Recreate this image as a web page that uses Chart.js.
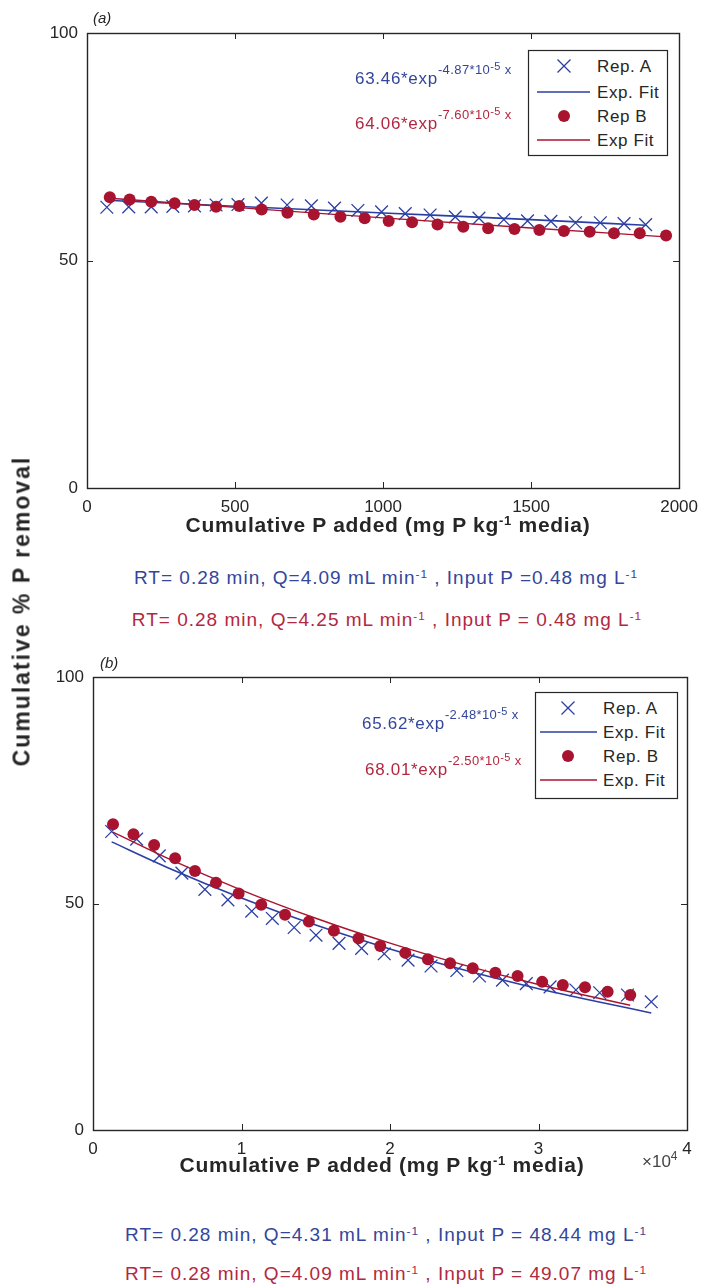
<!DOCTYPE html>
<html>
<head>
<meta charset="utf-8">
<script src="https://cdn.jsdelivr.net/npm/chart.js@4"></script>
<style>
  body { margin: 0; background: #fff; }
  #page { position: relative; width: 707px; height: 1288px; overflow: hidden; font-family: "Liberation Sans", Arial, sans-serif; color: #262626; }
  canvas { position: absolute; left: 0; }
  .t { position: absolute; white-space: nowrap; transform: translate(-50%, -50%); line-height: 1; }
  .lft { position: absolute; white-space: nowrap; line-height: 1; }
  .xt { font-weight: bold; font-size: 21px; letter-spacing: 0.7px; }
  .cap { font-size: 19px; letter-spacing: 1.0px; }
  .cap sup, .xt sup { font-size: 0.62em; vertical-align: 0; position: relative; top: -0.55em; }
  .blue { color: #33469b; }
  .red { color: #b2283f; }
  .eq { font-size: 17px; letter-spacing: 0.7px; }
  .s1 { font-size: 13px; position: relative; top: -10px; letter-spacing: 0.4px; }
  .s2 { font-size: 11px; position: relative; top: -4px; }
  .lab { font-style: italic; font-size: 15px; }
  svg { position: absolute; left: 0; top: 0; }
</style>
</head>
<body>
<div id="page">
  <canvas id="chartA" width="707" height="530" style="top:0px"></canvas>
  <canvas id="chartB" width="707" height="530" style="top:640px"></canvas>

  <div class="lft lab" style="left:93px; top:10px;">(a)</div>
  <div class="lft lab" style="left:100px; top:655px;">(b)</div>

  <div class="t" style="left:22px; top:611px; font-weight:bold; font-size:23px; letter-spacing:2px; transform: translate(-50%, -50%) rotate(-90deg);">Cumulative % P removal</div>

  <div class="t xt" style="left:388px; top:524px;">Cumulative P added (mg P kg<sup>-1</sup> media)</div>
  <div class="t cap blue" style="left:386px; top:577px;">RT= 0.28 min, Q=4.09 mL min<sup>-1</sup> , Input P =0.48 mg L<sup>-1</sup></div>
  <div class="t cap red" style="left:387px; top:619px;">RT= 0.28 min, Q=4.25 mL min<sup>-1</sup> , Input P = 0.48 mg L<sup>-1</sup></div>

  <div class="t xt" style="left:382px; top:1164px;">Cumulative P added (mg P kg<sup>-1</sup> media)</div>
  <div class="lft" style="left:642px; top:1153px; font-size:17px; color:#444;">&times;10<span style="font-size:12px; position:relative; top:-7px;">4</span></div>
  <div class="t cap blue" style="left:386px; top:1234px;">RT= 0.28 min, Q=4.31 mL min<sup>-1</sup> , Input P = 48.44 mg L<sup>-1</sup></div>
  <div class="t cap red" style="left:386px; top:1273px;">RT= 0.28 min, Q=4.09 mL min<sup>-1</sup> , Input P = 49.07 mg L<sup>-1</sup></div>

  <div class="lft eq blue" style="left:355px; top:70px;">63.46*exp<span class="s1">-4.87*10<span class="s2">-5</span> x</span></div>
  <div class="lft eq red" style="left:355px; top:115px;">64.06*exp<span class="s1">-7.60*10<span class="s2">-5</span> x</span></div>
  <div class="lft eq blue" style="left:362px; top:715px;">65.62*exp<span class="s1">-2.48*10<span class="s2">-5</span> x</span></div>
  <div class="lft eq red" style="left:365px; top:761px;">68.01*exp<span class="s1">-2.50*10<span class="s2">-5</span> x</span></div>

  <svg id="legends" width="707" height="1288"></svg>
</div>

<script>
// panel (a)
const aTicksX = [0, 500, 1000, 1500, 2000];
const aTicksY = [0, 50, 100];
const aRepAx = [67, 141, 217, 290, 363, 436, 510, 589, 676, 758, 836, 915, 995, 1075, 1159, 1244, 1324, 1408, 1488, 1567, 1650, 1734, 1814, 1887];
const aRepAy = [61.7, 61.8, 61.8, 61.9, 62.0, 62.2, 62.3, 62.6, 62.2, 62.0, 61.5, 61.0, 60.7, 60.3, 60.0, 59.6, 59.3, 59.0, 58.7, 58.6, 58.3, 58.3, 58.1, 57.9];
const aRepBx = [77, 144, 217, 296, 363, 436, 514, 590, 677, 766, 856, 938, 1019, 1098, 1184, 1271, 1355, 1444, 1528, 1611, 1698, 1780, 1867, 1956];
const aRepBy = [63.9, 63.4, 62.9, 62.6, 62.2, 61.8, 62.0, 61.2, 60.5, 60.1, 59.6, 59.3, 58.7, 58.4, 57.9, 57.4, 57.1, 56.9, 56.7, 56.5, 56.3, 56.0, 56.0, 55.5];
const aFitAx = [67, 500, 1000, 1500, 1887];
const aFitAy = [63.25, 61.93, 60.45, 58.99, 57.75];
const aFitBx = [77, 500, 1000, 1500, 1956];
const aFitBy = [63.69, 61.67, 59.37, 57.15, 55.2];

// panel (b)
const bTicksX = [0, 10000, 20000, 30000, 40000];
const bTicksY = [0, 50, 100];
const bRepAx = [1256, 2939, 4462, 5985, 7535, 9085, 10688, 12077, 13547, 15017, 16567, 18090, 19613, 21216, 22766, 24502, 26025, 27575, 29178, 30781, 32518, 34121, 35992, 37595];
const bRepAy = [65.9, 64.2, 60.5, 56.7, 53.1, 50.8, 48.3, 46.7, 44.7, 43.0, 41.2, 40.1, 38.9, 37.5, 36.2, 35.2, 34.0, 33.1, 32.3, 31.6, 30.9, 30.3, 29.8, 28.3];
const bRepBx = [1347, 2725, 4115, 5531, 6867, 8283, 9806, 11329, 12933, 14536, 16219, 17876, 19345, 21028, 22552, 24048, 25571, 27094, 28591, 30247, 31637, 33133, 34656, 36179];
const bRepBy = [67.5, 65.3, 62.9, 60.0, 57.2, 54.6, 52.2, 49.7, 47.5, 46.0, 44.0, 42.3, 40.6, 39.1, 37.7, 36.8, 35.7, 34.7, 34.0, 32.7, 32.0, 31.5, 30.5, 29.8];
const bFitAx = [1256, 5000, 10000, 15000, 20000, 25000, 30000, 37595];
const bFitAy = [63.6, 57.97, 51.21, 45.24, 39.96, 35.3, 31.18, 25.83];
const bFitBx = [1347, 5000, 10000, 15000, 20000, 25000, 30000, 36179];
const bFitBy = [65.76, 60.02, 52.97, 46.74, 41.25, 36.4, 32.13, 27.53];

const BLUE = '#2b3fa3';
const RED = '#a8142f';
const AXIS = '#262626';
const FONT = '"Liberation Sans", Arial, sans-serif';

const pts = (xs, ys) => xs.map((x, i) => ({ x: x, y: ys[i] }));

// box round the plot, ticks pointing inward
const boxTicks = {
  id: 'boxTicks',
  afterDraw(chart) {
    const { ctx, chartArea: a } = chart;
    const x = chart.scales.x, y = chart.scales.y;
    ctx.save();
    ctx.strokeStyle = AXIS;
    ctx.lineWidth = 1;
    ctx.beginPath();
    x.ticks.forEach(t => {
      const px = Math.round(x.getPixelForValue(t.value)) + 0.5;
      ctx.moveTo(px, a.bottom); ctx.lineTo(px, a.bottom - 6);
      ctx.moveTo(px, a.top); ctx.lineTo(px, a.top + 6);
    });
    y.ticks.forEach(t => {
      const py = Math.round(y.getPixelForValue(t.value)) + 0.5;
      ctx.moveTo(a.left, py); ctx.lineTo(a.left + 6, py);
      ctx.moveTo(a.right, py); ctx.lineTo(a.right - 6, py);
    });
    ctx.stroke();
    ctx.lineWidth = 1.4;
    ctx.strokeRect(Math.round(a.left) + 0.5, Math.round(a.top) + 0.5, Math.round(a.right - a.left), Math.round(a.bottom - a.top));
    ctx.restore();
  }
};

function makePanel(id, p) {
  return new Chart(document.getElementById(id), {
    type: 'scatter',
    data: {
      datasets: [
        { label: 'Rep. A', data: pts(p.ax, p.ay), pointStyle: 'crossRot', pointRadius: 9, borderColor: BLUE, borderWidth: 1.3, showLine: false, order: 4 },
        { label: 'Exp. Fit', data: pts(p.fax, p.fay), showLine: true, pointRadius: 0, borderColor: BLUE, borderWidth: 1.6, cubicInterpolationMode: 'monotone', order: 3 },
        { label: p.bLabel, data: pts(p.bx, p.by), pointStyle: 'circle', pointRadius: 6, backgroundColor: RED, borderColor: RED, borderWidth: 0, showLine: false, order: 2 },
        { label: p.fbLabel, data: pts(p.fbx, p.fby), showLine: true, pointRadius: 0, borderColor: RED, borderWidth: 1.4, cubicInterpolationMode: 'monotone', order: 1 }
      ]
    },
    options: {
      responsive: false,
      animation: false,
      devicePixelRatio: 1,
      layout: { padding: { left: 0, top: p.top, right: p.right, bottom: 0 } },
      plugins: { legend: { display: false }, tooltip: { enabled: false } },
      scales: {
        x: {
          type: 'linear', min: p.xTicks[0], max: p.xTicks[p.xTicks.length - 1],
          grid: { display: false, drawTicks: false }, border: { display: false },
          afterBuildTicks: s => { s.ticks = p.xTicks.map(v => ({ value: v })); },
          afterFit: s => { s.height = p.xh; },
          ticks: { color: AXIS, padding: 9, font: { family: FONT, size: 17 }, maxRotation: 0, callback: p.xcb }
        },
        y: {
          type: 'linear', min: 0, max: 100,
          grid: { display: false, drawTicks: false }, border: { display: false },
          afterBuildTicks: s => { s.ticks = p.yTicks.map(v => ({ value: v })); },
          afterFit: s => { s.width = p.yw; },
          ticks: { color: AXIS, padding: 9, font: { family: FONT, size: 17 } }
        }
      }
    },
    plugins: [boxTicks]
  });
}

makePanel('chartA', {
  ax: aRepAx, ay: aRepAy, fax: aFitAx, fay: aFitAy, bx: aRepBx, by: aRepBy, fbx: aFitBx, fby: aFitBy,
  bLabel: 'Rep B', fbLabel: 'Exp Fit', xTicks: aTicksX, yTicks: aTicksY,
  top: 33, right: 25, xh: 42, yw: 87, xcb: v => v
});
makePanel('chartB', {
  ax: bRepAx, ay: bRepAy, fax: bFitAx, fay: bFitAy, bx: bRepBx, by: bRepBy, fbx: bFitBx, fby: bFitBy,
  bLabel: 'Rep. B', fbLabel: 'Exp. Fit', xTicks: bTicksX, yTicks: bTicksY,
  top: 37, right: 20, xh: 40, yw: 93, xcb: v => v / 10000
});

// legends (boxes drawn as svg, text kept as text)
const legendA = { left: 528, top: 50, w: 139, h: 105, rows: [66, 92, 116, 140], mx: 564, l0: 537, l1: 590, tx: 597, labels: ['Rep. A', 'Exp. Fit', 'Rep B', 'Exp Fit'] };
const legendB = { left: 535, top: 692, w: 142, h: 106, rows: [708, 732, 756, 780], mx: 568, l0: 540, l1: 597, tx: 603, labels: ['Rep. A', 'Exp. Fit', 'Rep. B', 'Exp. Fit'] };

const svg = document.getElementById('legends');
let out = '';
[legendA, legendB].forEach(L => {
  out += `<rect x="${L.left + 0.5}" y="${L.top + 0.5}" width="${L.w}" height="${L.h}" fill="#fff" stroke="${AXIS}" stroke-width="1.2"/>`;
  const r = L.rows, s = 6.5;
  out += `<path d="M${L.mx - s} ${r[0] - s}L${L.mx + s} ${r[0] + s}M${L.mx - s} ${r[0] + s}L${L.mx + s} ${r[0] - s}" stroke="${BLUE}" stroke-width="1.3"/>`;
  out += `<line x1="${L.l0}" y1="${r[1]}" x2="${L.l1}" y2="${r[1]}" stroke="${BLUE}" stroke-width="1.6"/>`;
  out += `<circle cx="${L.mx}" cy="${r[2]}" r="6" fill="${RED}"/>`;
  out += `<line x1="${L.l0}" y1="${r[3]}" x2="${L.l1}" y2="${r[3]}" stroke="${RED}" stroke-width="1.4"/>`;
  L.labels.forEach((t, i) => {
    out += `<text x="${L.tx}" y="${r[i]}" dominant-baseline="central" font-family='${FONT}' font-size="17" letter-spacing="0.6" fill="${AXIS}">${t}</text>`;
  });
});
svg.innerHTML = out;
</script>
</body>
</html>
